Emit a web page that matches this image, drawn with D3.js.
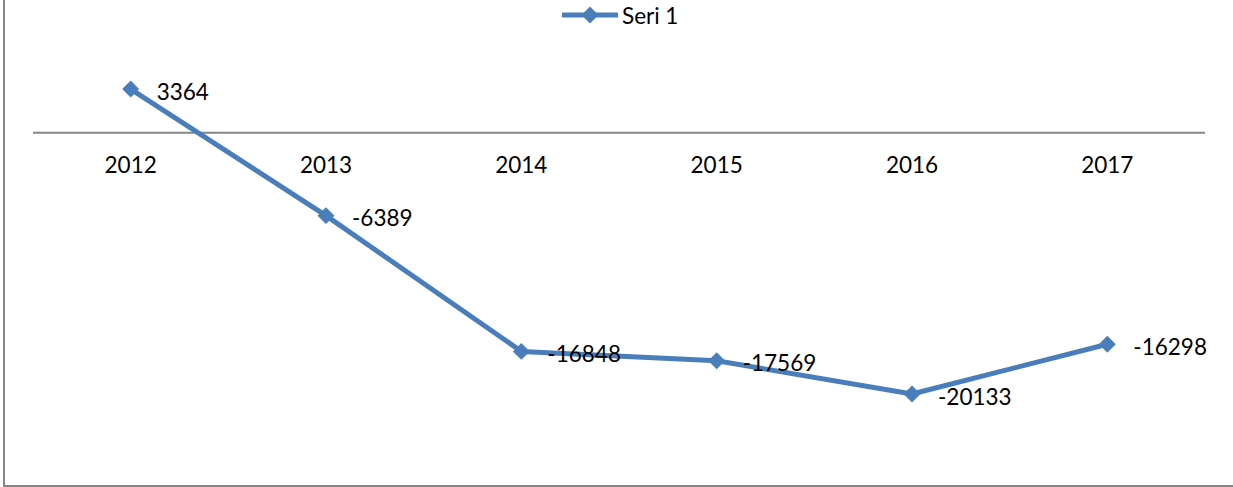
<!DOCTYPE html>
<html>
<head>
<meta charset="utf-8">
<script src="https://cdn.jsdelivr.net/npm/d3@7"></script>
<style>
  html, body { margin: 0; padding: 0; background: #fff; }
  svg { display: block; }
</style>
</head>
<body>
<div id="chart"></div>
<script>
// data
const years = ['2012', '2013', '2014', '2015', '2016', '2017'];
const seriesValues = [3364, -6389, -16848, -17569, -20133, -16298];
const seriesName = 'Seri 1';

const width = 1233;
const height = 487;
const lineColor = '#4a7ebb';
const axisColor = '#868686';
const fontFamily = "Lato, 'Open Sans', sans-serif";
const fontSize = 22.5;

const svg = d3.select('#chart')
    .append('svg')
    .attr('width', width)
    .attr('height', height);

// chart frame (only left and bottom edges fall inside the picture)
svg.append('rect')
    .attr('x', 4)
    .attr('y', -10)
    .attr('width', width + 20)
    .attr('height', 496)
    .attr('fill', 'none')
    .attr('stroke', axisColor)
    .attr('stroke-width', 2);

const x = d3.scaleBand()
    .domain(years)
    .range([33, 1205]);

const y = d3.scaleLinear()
    .domain([-25000, 5000])
    .range([457.2, 67.8]);

// category axis sits on zero
svg.append('line')
    .attr('x1', x.range()[0])
    .attr('x2', x.range()[1])
    .attr('y1', y(0))
    .attr('y2', y(0))
    .attr('stroke', axisColor)
    .attr('stroke-width', 2);

svg.selectAll('.year-label')
    .data(years)
    .enter()
    .append('text')
    .attr('class', 'year-label')
    .attr('x', d => x(d) + x.bandwidth() / 2)
    .attr('y', 173)
    .attr('text-anchor', 'middle')
    .style('font-family', fontFamily)
    .style('font-size', `${fontSize}px`)
    .style('fill', '#000')
    .text(d => d);

const points = years.map((yr, i) => ({ year: yr, value: seriesValues[i] }));

const line = d3.line()
    .x(d => x(d.year) + x.bandwidth() / 2)
    .y(d => y(d.value));

svg.append('path')
    .datum(points)
    .attr('d', line)
    .attr('fill', 'none')
    .attr('stroke', lineColor)
    .attr('stroke-width', 5)
    .attr('stroke-linejoin', 'round');

const diamond = d3.symbol(d3.symbolSquare, 144);

svg.selectAll('.marker')
    .data(points)
    .enter()
    .append('path')
    .attr('class', 'marker')
    .attr('d', diamond)
    .attr('transform', d => `translate(${x(d.year) + x.bandwidth() / 2},${y(d.value)}) rotate(45)`)
    .attr('fill', lineColor);

svg.selectAll('.value-label')
    .data(points)
    .enter()
    .append('text')
    .attr('class', 'value-label')
    .attr('x', d => x(d.year) + x.bandwidth() / 2 + 26)
    .attr('y', d => y(d.value) + 2)
    .attr('dominant-baseline', 'central')
    .style('font-family', fontFamily)
    .style('font-size', `${fontSize}px`)
    .style('fill', '#000')
    .text(d => d.value);

// legend
const legend = svg.append('g').attr('transform', 'translate(562,15)');
legend.append('line')
    .attr('x1', 0)
    .attr('x2', 56)
    .attr('y1', 0)
    .attr('y2', 0)
    .attr('stroke', lineColor)
    .attr('stroke-width', 5);
legend.append('path')
    .attr('d', diamond)
    .attr('transform', 'translate(28,0) rotate(45)')
    .attr('fill', lineColor);
legend.append('text')
    .attr('x', 60)
    .attr('y', 0)
    .attr('dominant-baseline', 'central')
    .style('font-family', fontFamily)
    .style('font-size', `${fontSize}px`)
    .style('fill', '#000')
    .text(seriesName);
</script>
</body>
</html>
